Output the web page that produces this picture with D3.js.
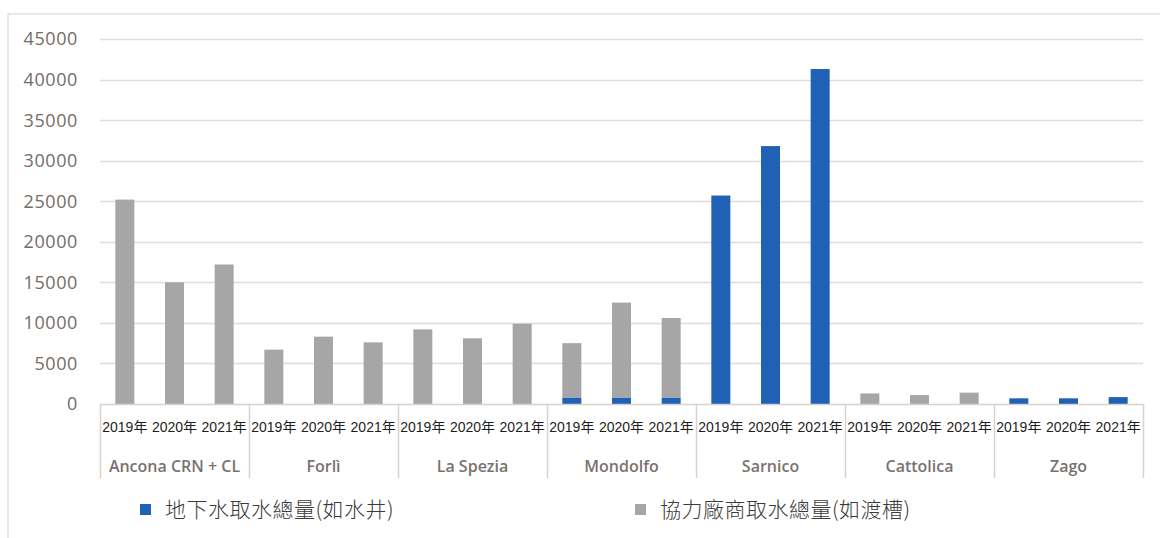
<!DOCTYPE html>
<html>
<head>
<meta charset="utf-8">
<script src="https://cdn.jsdelivr.net/npm/d3@7"></script>
<style>
  body { margin: 0; background: #fff; }
  svg { display: block; }
</style>
</head>
<body>
<div class="chart"></div>
<script>
// Chart data
var sites = ["Ancona CRN + CL", "Forlì", "La Spezia", "Mondolfo", "Sarnico", "Cattolica", "Zago"];
var years = ["2019年", "2020年", "2021年"];
// 地下水取水總量(如水井), per site, per year
var groundwater = [
  [0, 0, 0],
  [0, 0, 0],
  [0, 0, 0],
  [800, 800, 800],
  [25700, 31800, 41300],
  [0, 0, 0],
  [700, 700, 850]
];
// 協力廠商取水總量(如渡槽)
var supplier = [
  [25200, 15000, 17200],
  [6700, 8300, 7600],
  [9200, 8100, 9900],
  [6700, 11700, 9800],
  [0, 0, 0],
  [1300, 1100, 1400],
  [0, 0, 0]
];
var yTicks = [0, 5000, 10000, 15000, 20000, 25000, 30000, 35000, 40000, 45000];
var seriesNames = ["地下水取水總量(如水井)", "協力廠商取水總量(如渡槽)"];
var seriesColors = ["#1f61b5", "#a6a6a6"];

var svgWidth = 1160;
var svgHeight = 538;

var plot = { left: 100, right: 1143, top: 39, bottom: 404 };

var svg = d3.select(".chart")
  .append("svg")
  .attr("width", svgWidth)
  .attr("height", svgHeight);

// outer frame (top + left edges visible)
svg.append("path")
  .attr("d", "M8,538 L8,14 L1160,14")
  .attr("fill", "none")
  .attr("stroke", "#e2dedb")
  .attr("stroke-width", 1.5);

var yScale = d3.scaleLinear().domain([0, 45000]).range([plot.bottom, plot.top]);
var xGroup = d3.scaleBand().domain(sites).range([plot.left, plot.right]).padding(0);
var xYear = d3.scaleBand().domain(years).range([0, xGroup.bandwidth()]).padding(0);
var barWidth = 19;

// gridlines
svg.append("g")
  .selectAll("line")
  .data(yTicks.filter(function(d) { return d > 0; }))
  .enter()
  .append("line")
  .attr("x1", plot.left)
  .attr("x2", plot.right)
  .attr("y1", function(d) { return Math.round(yScale(d)) + 0.5; })
  .attr("y2", function(d) { return Math.round(yScale(d)) + 0.5; })
  .attr("stroke", "#e2dcd8")
  .attr("stroke-width", 1.5);

// y tick labels
svg.append("g")
  .selectAll("text")
  .data(yTicks)
  .enter()
  .append("text")
  .attr("x", 78)
  .attr("y", function(d) { return yScale(d); })
  .attr("dy", "0.36em")
  .attr("text-anchor", "end")
  .style("font-family", "'Open Sans', sans-serif")
  .style("font-size", "18px")
  .style("letter-spacing", "0.6px")
  .style("fill", "#746c68")
  .text(function(d) { return d; });

// bars
var rows = [];
sites.forEach(function(site, i) {
  years.forEach(function(yr, j) {
    rows.push({ site: site, year: yr, gw: groundwater[i][j], sp: supplier[i][j] });
  });
});

var bars = svg.append("g");
bars.selectAll("rect.gw")
  .data(rows)
  .enter()
  .append("rect")
  .attr("class", "gw")
  .attr("x", function(d) { return xGroup(d.site) + xYear(d.year) + (xYear.bandwidth() - barWidth) / 2; })
  .attr("width", barWidth)
  .attr("y", function(d) { return yScale(d.gw); })
  .attr("height", function(d) { return yScale(0) - yScale(d.gw); })
  .attr("fill", seriesColors[0]);

bars.selectAll("rect.sp")
  .data(rows)
  .enter()
  .append("rect")
  .attr("class", "sp")
  .attr("x", function(d) { return xGroup(d.site) + xYear(d.year) + (xYear.bandwidth() - barWidth) / 2; })
  .attr("width", barWidth)
  .attr("y", function(d) { return yScale(d.gw + d.sp); })
  .attr("height", function(d) { return yScale(d.gw) - yScale(d.gw + d.sp); })
  .attr("fill", seriesColors[1]);

// x axis line
svg.append("line")
  .attr("x1", plot.left)
  .attr("x2", plot.right)
  .attr("y1", plot.bottom + 0.5)
  .attr("y2", plot.bottom + 0.5)
  .attr("stroke", "#d8d2ce")
  .attr("stroke-width", 1.5);

// group separators
var seps = sites.map(function(s) { return xGroup(s); }).concat([plot.right]);
svg.append("g")
  .selectAll("line")
  .data(seps)
  .enter()
  .append("line")
  .attr("x1", function(d) { return Math.round(d) + 0.5; })
  .attr("x2", function(d) { return Math.round(d) + 0.5; })
  .attr("y1", plot.bottom)
  .attr("y2", 478)
  .attr("stroke", "#d8d2ce")
  .attr("stroke-width", 1.5);

// year labels
svg.append("g")
  .selectAll("text")
  .data(rows)
  .enter()
  .append("text")
  .attr("x", function(d) { return xGroup(d.site) + xYear(d.year) + xYear.bandwidth() / 2; })
  .attr("y", 427)
  .attr("dy", "0.36em")
  .attr("text-anchor", "middle")
  .style("font-family", "'Liberation Sans', Arial, 'Noto Sans CJK TC', sans-serif")
  .style("font-size", "14px")
  .style("fill", "#1e1e1e")
  .text(function(d) { return d.year; });

// site labels
svg.append("g")
  .selectAll("text")
  .data(sites)
  .enter()
  .append("text")
  .attr("x", function(d) { return xGroup(d) + xGroup.bandwidth() / 2; })
  .attr("y", 466)
  .attr("dy", "0.36em")
  .attr("text-anchor", "middle")
  .style("font-family", "'Open Sans', sans-serif")
  .style("font-size", "16px")
  .style("font-weight", 600)
  .style("fill", "#7a726e")
  .text(function(d) { return d; });

// legend
var legendX = [140, 635];
var legend = svg.append("g")
  .selectAll("g")
  .data(seriesNames)
  .enter()
  .append("g")
  .attr("transform", function(d, i) { return "translate(" + legendX[i] + ",509)"; });

legend.append("rect")
  .attr("x", 0)
  .attr("y", -5)
  .attr("width", 11)
  .attr("height", 11)
  .attr("fill", function(d, i) { return seriesColors[i]; });

legend.append("text")
  .attr("x", 25)
  .attr("y", 0)
  .attr("dy", "0.36em")
  .style("font-family", "'Noto Sans CJK TC', sans-serif")
  .style("font-size", "21px")
  .style("font-weight", 300)
  .style("letter-spacing", "0.5px")
  .style("fill", "#3a3a3a")
  .text(function(d) { return d; });
</script>
</body>
</html>
